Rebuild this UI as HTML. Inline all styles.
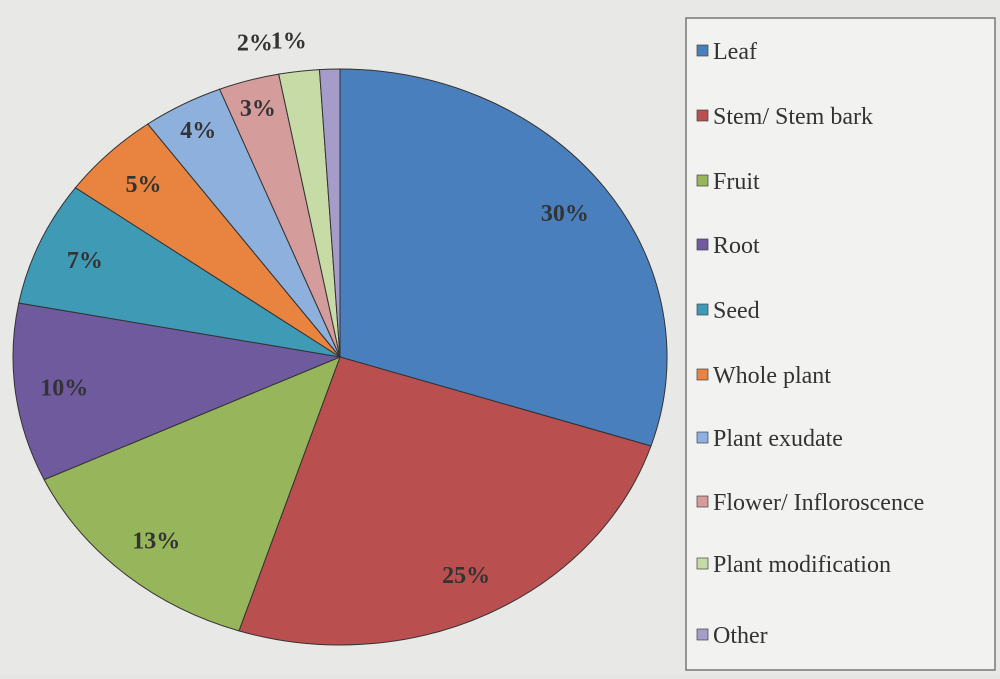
<!DOCTYPE html>
<html><head><meta charset="utf-8"><style>
body{margin:0;width:1000px;height:674px;background:#e6e6e4;overflow:hidden;font-family:"Liberation Serif",serif}
</style></head><body>
<svg width="1000" height="674">
<rect x="0" y="0" width="1000" height="674" fill="#e8e8e6"/>
<g id="pie"></g>
<g id="labels"></g>
<rect x="686" y="18" width="309" height="652" fill="#f2f2f0" stroke="#777" stroke-width="1.5"/>
<g id="legend"></g>
</svg>
<script>
const categories=["Leaf","Stem/ Stem bark","Fruit","Root","Seed","Whole plant","Plant exudate","Flower/ Infloroscence","Plant modification","Other"];
const values=[30,25,13,10,7,5,4,3,2,1];
const labels=["30%","25%","13%","10%","7%","5%","4%","3%","2%","1%"];
const colors=["#4a7fbd","#b9504f","#97b55b","#6f5a9e","#3f9bb5","#e8843f","#8db1dc","#d59c9c","#c6dba6","#a69cc9"];
const cx=340,cy=357,rx=327,ry=288;
const NS="http://www.w3.org/2000/svg";
const pie=document.getElementById('pie'),lab=document.getElementById('labels'),leg=document.getElementById('legend');
const total=values.reduce((a,b)=>a+b,0);
function pt(a,f){return [cx+rx*f*Math.sin(a),cy-ry*f*Math.cos(a)];}
let acc=0;
values.forEach((v,i)=>{
  const a0=acc/total*2*Math.PI;acc+=v;const a1=acc/total*2*Math.PI;
  const p0=pt(a0,1),p1=pt(a1,1);
  const p=document.createElementNS(NS,'path');
  p.setAttribute('d',`M${cx},${cy}L${p0[0]},${p0[1]}A${rx},${ry} 0 ${a1-a0>Math.PI?1:0} 1 ${p1[0]},${p1[1]}Z`);
  p.setAttribute('fill',colors[i]);p.setAttribute('stroke','#333');p.setAttribute('stroke-width','1');
  
  
  pie.appendChild(p);
  const am=(a0+a1)/2;
  const f=v>=5?0.85:(v>=3?0.9:1.1);
  const lp=pt(am,f);
  const t=document.createElementNS(NS,'text');
  t.setAttribute('x',lp[0]-(v<3?(v==2?40:40):0));t.setAttribute('y',lp[1]+8);
  t.setAttribute('text-anchor','middle');t.setAttribute('font-size','24');t.setAttribute('font-weight','bold');t.setAttribute('fill','#333');
  t.textContent=labels[i];
  
  
  lab.appendChild(t);
});
const ly=[52,117,182,246,311,376,439,503,565,636];
categories.forEach((c,i)=>{
  const g=document.createElementNS(NS,'g');
  
  
  const r=document.createElementNS(NS,'rect');
  r.setAttribute('x',697);r.setAttribute('y',ly[i]-7);r.setAttribute('width',11);r.setAttribute('height',11);
  r.setAttribute('fill',colors[i]);r.setAttribute('stroke','#444');r.setAttribute('stroke-width','0.7');
  const t=document.createElementNS(NS,'text');
  t.setAttribute('x',713);t.setAttribute('y',ly[i]+7);t.setAttribute('font-size','24');t.setAttribute('fill','#333');
  t.textContent=c;
  g.appendChild(r);g.appendChild(t);leg.appendChild(g);
});
</script>
</body></html>
